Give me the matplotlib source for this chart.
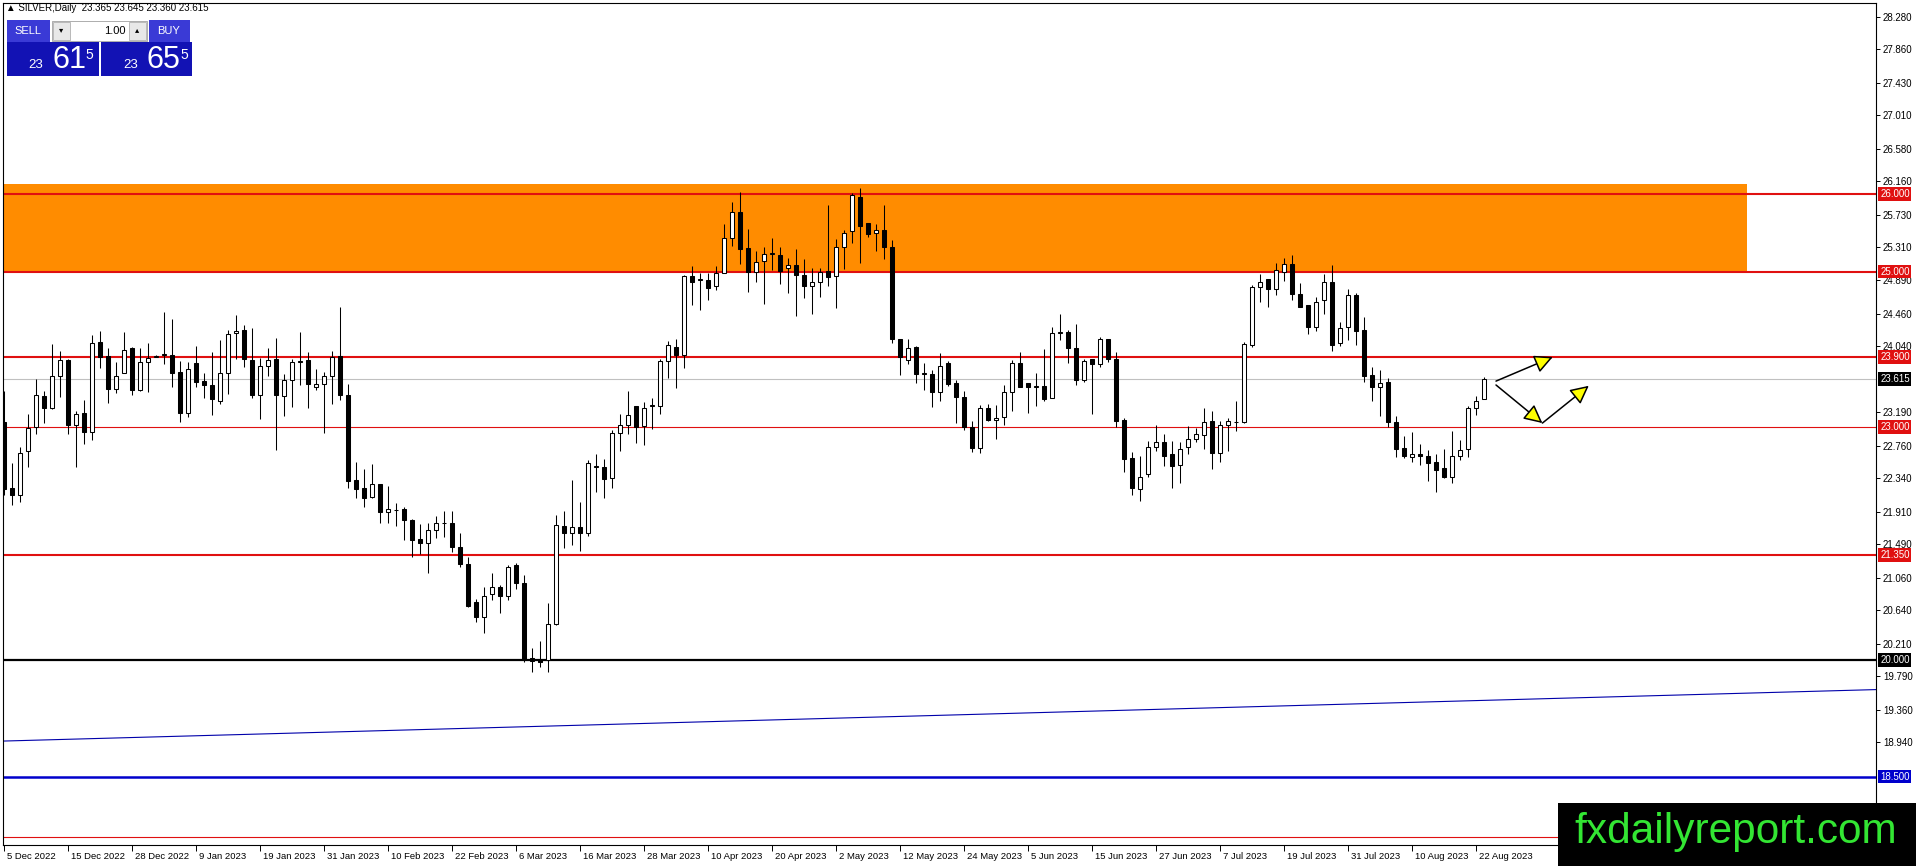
import matplotlib
matplotlib.use("Agg")
import matplotlib.pyplot as plt
import numpy as np
from matplotlib.patches import Rectangle
from matplotlib.transforms import ScaledTranslation, blended_transform_factory

plt.rcParams['font.family'] = ['Liberation Sans', 'DejaVu Sans']

# daily candles SILVER, 5 Dec 2022 .. 23 Aug 2023
opens = [23.06, 22.22, 22.13, 22.69, 23.00, 23.40, 23.25, 23.66, 23.86, 23.02,
         23.18, 22.93, 24.09, 23.91, 23.49, 23.69, 24.01, 23.48, 23.83, 23.90,
         23.93, 23.93, 23.71, 23.18, 23.82, 23.59, 23.54, 23.34, 23.70, 24.21,
         24.25, 23.86, 23.41, 23.78, 23.88, 23.40, 23.60, 23.84, 23.86, 23.52,
         23.55, 23.66, 23.91, 23.41, 22.32, 22.21, 22.10, 22.26, 21.91, 21.93,
         21.94, 21.80, 21.56, 21.51, 21.67, 21.76, 21.77, 21.45, 21.24, 20.75,
         20.56, 20.85, 20.94, 20.83, 21.22, 20.99, 20.03, 20.00, 20.00, 20.47,
         21.72, 21.63, 21.71, 21.63, 22.49, 22.48, 22.34, 22.92, 23.03, 23.27,
         23.01, 23.27, 23.27, 23.85, 24.03, 23.92, 24.94, 24.89, 24.89, 24.81,
         24.98, 25.43, 25.76, 25.30, 24.99, 25.13, 25.23, 25.21, 25.04, 25.09,
         24.96, 24.81, 24.87, 25.01, 24.94, 25.31, 25.52, 25.96, 25.62, 25.49,
         25.53, 25.31, 24.13, 23.86, 24.03, 23.68, 23.68, 23.45, 23.82, 23.57,
         23.39, 23.00, 22.73, 23.24, 23.09, 23.13, 23.45, 23.82, 23.57, 23.52,
         23.53, 23.37, 24.21, 24.22, 24.01, 23.61, 23.87, 23.81, 24.13, 23.88,
         23.09, 22.60, 22.20, 22.40, 22.74, 22.81, 22.65, 22.51, 22.74, 22.84,
         22.90, 23.08, 22.66, 23.02, 23.06, 23.07, 24.06, 24.80, 24.90, 24.78,
         25.00, 25.10, 24.71, 24.57, 24.28, 24.63, 24.86, 24.08, 24.29, 24.70,
         24.25, 23.67, 23.52, 23.58, 23.06, 22.73, 22.61, 22.65, 22.63, 22.55,
         22.47, 22.36, 22.63, 22.71, 23.25, 23.365]
highs = [23.46, 22.54, 22.74, 23.17, 23.62, 23.46, 24.07, 23.98, 23.88, 23.20,
         23.35, 24.18, 24.24, 24.02, 23.84, 24.22, 24.03, 24.01, 24.08, 23.92,
         24.48, 24.39, 23.85, 23.84, 24.04, 23.70, 23.97, 24.12, 24.25, 24.44,
         24.31, 24.27, 23.89, 24.02, 24.15, 23.68, 23.88, 24.22, 23.96, 23.74,
         23.71, 23.98, 24.55, 23.55, 22.55, 22.46, 22.52, 22.27, 22.24, 22.02,
         21.97, 21.82, 21.75, 21.76, 21.86, 21.92, 21.92, 21.63, 21.33, 20.79,
         20.94, 21.12, 20.97, 21.22, 21.25, 21.09, 20.16, 20.24, 20.73, 21.87,
         21.92, 22.32, 22.03, 22.57, 22.65, 22.59, 22.96, 23.17, 23.46, 23.27,
         23.32, 23.37, 23.88, 24.11, 24.13, 24.96, 25.07, 24.98, 24.98, 25.07,
         25.61, 25.90, 26.03, 25.55, 25.26, 25.31, 25.43, 25.31, 25.18, 25.29,
         25.16, 25.05, 25.05, 25.86, 25.42, 25.54, 26.01, 26.07, 25.62, 25.61,
         25.86, 25.41, 24.13, 24.13, 24.04, 23.82, 23.73, 23.95, 23.85, 23.60,
         23.46, 23.08, 23.28, 23.30, 23.28, 23.54, 23.86, 23.96, 23.57, 23.70,
         24.00, 24.29, 24.46, 24.25, 24.33, 23.88, 23.88, 24.16, 24.13, 23.97,
         23.12, 22.68, 22.63, 22.82, 23.03, 22.91, 22.82, 22.80, 23.01, 22.99,
         23.24, 23.20, 23.08, 23.11, 23.34, 24.09, 24.83, 24.97, 24.90, 25.11,
         25.17, 25.21, 24.85, 24.57, 24.67, 24.97, 25.09, 24.35, 24.78, 24.72,
         24.42, 23.77, 23.73, 23.63, 23.14, 22.88, 22.93, 22.78, 22.70, 22.65,
         22.72, 22.95, 22.83, 23.27, 23.40, 23.645]
lows = [22.12, 21.99, 22.04, 22.49, 22.91, 23.05, 23.23, 23.38, 22.91, 22.49,
        22.78, 22.83, 23.76, 23.31, 23.44, 23.69, 23.41, 23.46, 23.45, 23.90,
        23.81, 23.52, 23.06, 23.13, 23.52, 23.37, 23.15, 23.30, 23.43, 23.87,
        23.77, 23.37, 23.10, 23.65, 22.70, 23.14, 23.26, 23.54, 23.24, 23.47,
        22.92, 23.30, 23.35, 22.22, 22.08, 21.97, 22.09, 21.77, 21.77, 21.73,
        21.54, 21.33, 21.37, 21.12, 21.57, 21.58, 21.39, 21.20, 20.68, 20.49,
        20.35, 20.77, 20.61, 20.77, 20.92, 19.98, 19.85, 19.91, 19.84, 20.45,
        21.44, 21.48, 21.41, 21.60, 22.16, 22.09, 22.21, 22.69, 22.91, 22.79,
        22.77, 22.98, 23.17, 23.63, 23.50, 23.76, 24.57, 24.51, 24.64, 24.76,
        24.98, 25.33, 25.10, 24.74, 24.87, 24.58, 25.02, 24.84, 24.73, 24.43,
        24.66, 24.45, 24.67, 24.82, 24.53, 25.03, 25.37, 25.11, 25.45, 25.26,
        25.16, 24.08, 23.67, 23.81, 23.57, 23.48, 23.26, 23.33, 23.53, 23.05,
        22.96, 22.68, 22.66, 23.08, 22.85, 23.03, 23.21, 23.52, 23.18, 23.27,
        23.34, 23.37, 24.12, 23.82, 23.54, 23.58, 23.17, 23.77, 23.84, 23.00,
        22.42, 22.12, 22.05, 22.36, 22.69, 22.50, 22.22, 22.28, 22.65, 22.80,
        22.71, 22.46, 22.55, 22.69, 22.95, 23.05, 24.03, 24.61, 24.54, 24.70,
        24.88, 24.64, 24.54, 24.20, 24.23, 24.46, 23.98, 24.04, 24.12, 24.06,
        23.58, 23.34, 23.14, 23.00, 22.61, 22.60, 22.55, 22.51, 22.30, 22.16,
        22.34, 22.28, 22.58, 22.61, 23.15, 23.360]
closes = [22.20, 22.12, 22.67, 22.99, 23.41, 23.25, 23.66, 23.86, 23.03, 23.17,
          22.93, 24.08, 23.90, 23.49, 23.66, 23.99, 23.47, 23.83, 23.89, 23.91,
          23.94, 23.70, 23.18, 23.75, 23.58, 23.54, 23.36, 23.70, 24.19, 24.24,
          23.88, 23.41, 23.78, 23.86, 23.41, 23.60, 23.84, 23.85, 23.55, 23.55,
          23.66, 23.90, 23.41, 22.30, 22.20, 22.09, 22.26, 21.91, 21.94, 21.93,
          21.80, 21.55, 21.51, 21.67, 21.76, 21.77, 21.45, 21.24, 20.69, 20.55,
          20.83, 20.94, 20.82, 21.20, 20.99, 20.01, 19.99, 19.98, 20.46, 21.74,
          21.63, 21.71, 21.63, 22.54, 22.50, 22.33, 22.92, 23.03, 23.16, 23.00,
          23.25, 23.28, 23.85, 24.05, 23.92, 24.94, 24.87, 24.91, 24.79, 24.98,
          25.43, 25.76, 25.29, 24.99, 25.12, 25.22, 25.24, 25.01, 25.09, 24.95,
          24.81, 24.86, 24.99, 24.93, 25.31, 25.50, 25.98, 25.59, 25.48, 25.54,
          25.32, 24.13, 23.90, 24.02, 23.68, 23.69, 23.45, 23.78, 23.55, 23.38,
          23.00, 22.73, 23.25, 23.09, 23.12, 23.45, 23.82, 23.52, 23.51, 23.53,
          23.36, 24.21, 24.22, 24.01, 23.60, 23.85, 23.81, 24.13, 23.87, 23.08,
          22.59, 22.21, 22.36, 22.74, 22.81, 22.63, 22.50, 22.72, 22.85, 22.91,
          23.06, 22.67, 23.03, 23.08, 23.07, 24.07, 24.80, 24.87, 24.78, 25.02,
          25.10, 24.71, 24.55, 24.28, 24.61, 24.87, 24.06, 24.27, 24.70, 24.24,
          23.65, 23.51, 23.56, 23.07, 22.71, 22.62, 22.65, 22.63, 22.54, 22.45,
          22.36, 22.63, 22.70, 23.25, 23.34, 23.615]

date_labels = ['5 Dec 2022', '15 Dec 2022', '28 Dec 2022', '9 Jan 2023', '19 Jan 2023',
               '31 Jan 2023', '10 Feb 2023', '22 Feb 2023', '6 Mar 2023', '16 Mar 2023',
               '28 Mar 2023', '10 Apr 2023', '20 Apr 2023', '2 May 2023', '12 May 2023',
               '24 May 2023', '5 Jun 2023', '15 Jun 2023', '27 Jun 2023', '7 Jul 2023',
               '19 Jul 2023', '31 Jul 2023', '10 Aug 2023', '22 Aug 2023']
price_ticks = [28.28, 27.86, 27.43, 27.01, 26.58, 26.16, 25.73, 25.31, 24.89, 24.46,
               24.04, 23.19, 22.76, 22.34, 21.91, 21.49, 21.06, 20.64, 20.21, 19.79,
               19.36, 18.94]

red_levels = [26.0, 25.0, 23.9, 21.35]
thin_red_levels = [23.0, 17.72]
black_level = 20.0
blue_level = 18.5
last_price = 23.615
zone_low, zone_high, zone_end = 25.0, 26.13, 217.9
trend_x = [-1, 234]
trend_y = [18.955, 19.62]

W, H = 1916, 866
fig = plt.figure(figsize=(W / 100, H / 100), dpi=100)
fig.patch.set_facecolor('white')
ax = fig.add_axes([3 / W, 1 - 845 / H, 1873 / W, 842 / H])
ax.set_xlim(-0.125, 234)
ax.set_ylim(17.62, 28.456)

red = '#e01010'
n = len(closes)
x = np.arange(n)
o = np.array(opens)
c = np.array(closes)

# resistance zone
ax.add_patch(Rectangle((-2, zone_low), zone_end + 2, zone_high - zone_low,
                       facecolor='#ff8c00', edgecolor='none', zorder=0))

for lv in red_levels:
    ax.axhline(lv, color=red, lw=1.5, zorder=1)
for lv in thin_red_levels:
    ax.axhline(lv, color=red, lw=0.8, zorder=1)
ax.axhline(black_level, color='black', lw=1.6, zorder=1)
ax.axhline(blue_level, color='#0000cc', lw=1.8, zorder=1)
ax.axhline(last_price, color='#c0c0c0', lw=0.8, zorder=1)
ax.plot(trend_x, trend_y, color='#0000aa', lw=0.8, zorder=1)

# candles
ax.vlines(x, lows, highs, color='black', lw=0.75, zorder=2)
up = c >= o
body_bottom = np.minimum(o, c)
body_height = np.maximum(np.abs(c - o), 0.004)
ax.bar(x[up], body_height[up], bottom=body_bottom[up], width=0.5,
       facecolor='white', edgecolor='black', linewidth=0.75, zorder=3)
ax.bar(x[~up], body_height[~up], bottom=body_bottom[~up], width=0.5,
       facecolor='black', edgecolor='black', linewidth=0.75, zorder=3)

# projection arrows
arrow_kw = dict(arrowstyle='-|>,head_length=0.7,head_width=0.35', fc='#ffff00', ec='black',
                lw=1.1, mutation_scale=16, shrinkA=0, shrinkB=0)
ax.annotate('', xy=(193.6, 23.90), xytext=(186.5, 23.59), arrowprops=arrow_kw, zorder=4)
ax.annotate('', xy=(192.3, 23.05), xytext=(186.5, 23.54), arrowprops=arrow_kw, zorder=4)
ax.annotate('', xy=(198.1, 23.53), xytext=(192.3, 23.05), arrowprops=arrow_kw, zorder=4)

# axes look
for side in ['left', 'top', 'right', 'bottom']:
    ax.spines[side].set_linewidth(0.8)
ax.yaxis.tick_right()
ax.set_yticks(price_ticks)
ax.set_yticklabels(['%.3f' % v for v in price_ticks])
ax.tick_params(axis='y', direction='out', length=3, width=0.7, labelsize=7, pad=2)
ax.set_xticks(np.arange(0, n, 8))
ax.set_xticklabels(date_labels)
ax.tick_params(axis='x', direction='out', length=4, width=0.7, labelsize=6.8, pad=1)
shift = ScaledTranslation(2 / 72, 0, fig.dpi_scale_trans)
for lab in ax.get_xticklabels():
    lab.set_horizontalalignment('left')
    lab.set_transform(lab.get_transform() + shift)

# level labels on the price scale
lab_tr = blended_transform_factory(ax.transAxes, ax.transData)
level_boxes = [(26.0, red), (25.0, red), (23.9, red), (23.0, red), (21.35, red),
               (20.0, 'black'), (18.5, '#0000cc'), (last_price, 'black')]
for lv, col in level_boxes:
    ax.text(1.0022, lv, '%.3f' % lv, transform=lab_tr, color='white', fontsize=7,
            va='center', ha='left', zorder=10, clip_on=False,
            bbox=dict(boxstyle='square,pad=0.18', fc=col, ec='none'))


def fx(px):
    return px / W


def fy(py):
    return 1 - py / H


def box(x0, y0, x1, y1, col, ec='none'):
    fig.add_artist(Rectangle((fx(x0), fy(y1)), (x1 - x0) / W, (y1 - y0) / H,
                             transform=fig.transFigure, facecolor=col, edgecolor=ec, lw=0.6))


# header and one click trading panel
fig.text(fx(6), fy(8), '\u25b2 SILVER,Daily  23.365 23.645 23.360 23.615', fontsize=7,
         va='center', ha='left', color='black')
box(7, 20, 50, 42, '#3a3ad6')
box(149, 20, 190, 42, '#3a3ad6')
box(52, 21, 147, 41, 'white', ec='#a0a0a0')
box(53, 22, 70, 40, '#e8e8e8', ec='#b0b0b0')
box(129, 22, 146, 40, '#e8e8e8', ec='#b0b0b0')
box(7, 42, 99, 76, '#1212b4')
box(101, 42, 192, 76, '#1212b4')
fig.text(fx(28), fy(31), 'SELL', fontsize=8, color='white', ha='center', va='center')
fig.text(fx(169), fy(31), 'BUY', fontsize=8, color='white', ha='center', va='center')
fig.text(fx(61), fy(31), '\u25be', fontsize=6, color='black', ha='center', va='center')
fig.text(fx(137), fy(31), '\u25b4', fontsize=6, color='black', ha='center', va='center')
fig.text(fx(126), fy(31), '1.00', fontsize=8, color='black', ha='right', va='center')
for x0, big in [(28, '61'), (123, '65')]:
    fig.text(fx(x0), fy(68), '23', fontsize=9.5, color='white', ha='left', va='baseline')
    fig.text(fx(x0 + 24), fy(68), big, fontsize=22, color='white', ha='left', va='baseline')
    fig.text(fx(x0 + 57), fy(59), '5', fontsize=10, color='white', ha='left', va='baseline')

# watermark
box(1558, 803, 1916, 866, 'black')
fig.text(fx(1736), fy(832), 'fxdailyreport.com', fontsize=30.5, color='#33e633',
         ha='center', va='center')

fig.savefig('out.png', dpi=100)
